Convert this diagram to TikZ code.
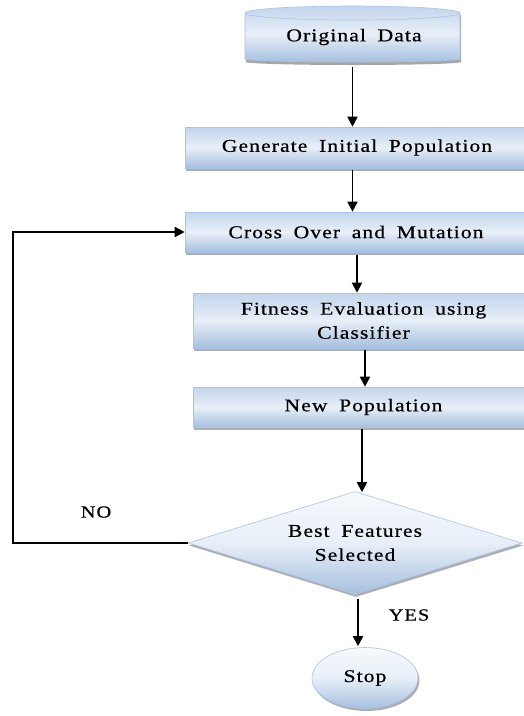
\documentclass[tikz,border=0pt]{standalone}
\usepackage{fontspec}
\setmainfont{Liberation Serif}[FakeStretch=1.2, FakeBold=0.6, LetterSpace=6.0, WordSpace=1.8]
\usetikzlibrary{shapes.geometric,arrows.meta,shadows}
\definecolor{edge}{HTML}{A9C4E6}
\definecolor{topblue}{HTML}{C3D5EC}
\definecolor{midblue}{HTML}{E8EFF8}
\definecolor{lowblue}{HTML}{A6BFDF}
\tikzset{
  txt/.style={font=\fontsize{18}{24}\selectfont, text=black, align=center},
  procbox/.style={txt, draw=edge, line width=0.6pt, rectangle, inner sep=0pt,
    top color=topblue, bottom color=lowblue, middle color=midblue,
    drop shadow={shadow xshift=0.5pt, shadow yshift=-2.5pt, fill=gray!70, opacity=0.9}},
  decision/.style={txt, draw=edge, line width=0.6pt, diamond, inner sep=0pt, aspect=3.24,
    top color=white!85!topblue, bottom color=lowblue, middle color=midblue,
    drop shadow={shadow xshift=1pt, shadow yshift=-2.5pt, fill=gray!70, opacity=0.9}},
  endnode/.style={txt, draw=edge, line width=0.6pt, ellipse, inner sep=0pt,
    top color=white!85!topblue, bottom color=lowblue, middle color=midblue,
    drop shadow={shadow xshift=1.5pt, shadow yshift=-2.5pt, fill=gray!70, opacity=0.9}},
  arr/.style={line width=1.8pt, -{Triangle[length=10pt,width=10pt]}},
  looparr/.style={line width=1.8pt, -{Triangle[length=10pt,width=10pt]}},
  lbl/.style={font=\fontsize{17}{20}\selectfont, text=black}
}
\begin{document}
\begin{tikzpicture}[x=1pt,y=-1pt]
\useasboundingbox (0,0) rectangle (524,716);
\clip (0,0) rectangle (524,716);
\fill[white] (0,0) rectangle (524,716);

% data store: cylinder drawn by hand
\fill[gray!70] (246,15) -- (246,62) arc[start angle=180,end angle=0,x radius=107.5,y radius=3]
  -- (461,15) -- cycle;
\shade[top color=topblue, bottom color=lowblue, middle color=midblue, draw=edge, line width=0.6pt]
  (245,13) -- (245,59) arc[start angle=180,end angle=0,x radius=107.5,y radius=3]
  -- (460,13) arc[start angle=0,end angle=-180,x radius=107.5,y radius=7] -- cycle;
\draw[edge, line width=0.6pt] (245,13) arc[start angle=180,end angle=0,x radius=107.5,y radius=7];
\node[txt, minimum width=215pt, minimum height=50pt, inner sep=0pt] (orig) at (354,37) {Original Data};

% process steps
\node[procbox, minimum width=344pt, minimum height=41pt] (gen) at (357,147.5) {Generate Initial Population};
\node[procbox, minimum width=342pt, minimum height=40pt] (cross) at (356,232) {Cross Over and Mutation};
\node[procbox, minimum width=341pt, minimum height=55pt] (fit) at (363.5,320.5) {Fitness Evaluation using\\Classifier};
\node[procbox, minimum width=341pt, minimum height=40pt] (newpop) at (363.5,407) {New Population};

% decision and end
\node[decision, minimum width=334pt, minimum height=103pt] (dia) at (355,543) {Best Features\\Selected};
\node[endnode, minimum width=106pt, minimum height=61pt] (stop) at (365,678) {Stop};

% arrow columns
\coordinate (k1) at (352.5,0);
\coordinate (k2) at (357,0);
\coordinate (k3) at (365,0);
\coordinate (k4) at (362,0);
\coordinate (k5) at (358,0);
\coordinate (k0) at (13,0);

\draw[arr] ([yshift=-5pt]orig.south -| k1) -- (gen.north -| k1);
\draw[arr] ([yshift=-2pt]gen.south -| k1) -- (cross.north -| k1);
\draw[arr] ([yshift=-3pt]cross.south -| k2) -- (fit.north -| k2);
\draw[arr] ([yshift=-2pt]fit.south -| k3) -- (newpop.north -| k3);
\draw[arr] ([yshift=-2pt]newpop.south -| k4) -- ([yshift=-1pt]dia.north -| k4);
\draw[arr] ([yshift=-4pt]dia.south -| k5) -- ([yshift=1pt]stop.north -| k5);

% loop back on NO
\draw[looparr] (dia.west) -- (dia.west -| k0) |- (cross.west);

\node[lbl] (no) at (96,512) {NO};
\node[lbl] (yes) at (409,615) {YES};
\end{tikzpicture}
\end{document}
